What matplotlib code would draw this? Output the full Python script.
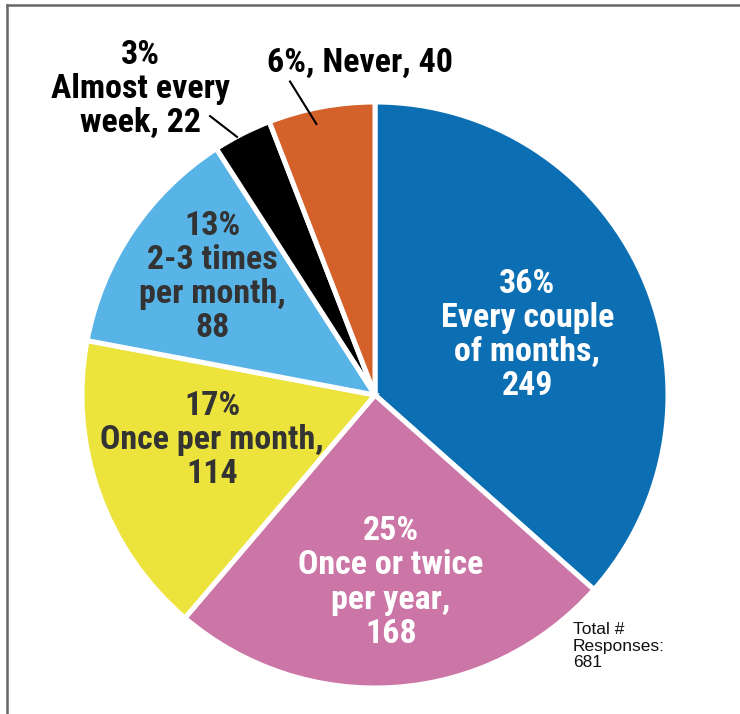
import matplotlib
matplotlib.use("Agg")
import matplotlib.pyplot as plt
from matplotlib.lines import Line2D

categories = ["Every couple\nof months,", "Once or twice\nper year,", "Once per month,",
              "2-3 times\nper month,", "Almost every\nweek,", "Never,"]
values = [249, 168, 114, 88, 22, 40]
percents = [36, 25, 17, 13, 3, 6]
colors = ["#0d6fb3", "#cb76a6", "#ece33c", "#58b3e6", "#000000", "#d4602a"]

fam = ["Roboto Condensed", "DejaVu Sans"]
fam2 = ["Liberation Sans", "DejaVu Sans"]

W, H = 740, 714
fig = plt.figure(figsize=(W / 100, H / 100), dpi=100)
cx, cy, r = 375, 395, 293
ax = fig.add_axes([(cx - r) / W, (H - cy - r) / H, 2 * r / W, 2 * r / H])
ax.set_aspect("equal")
ax.axis("off")

ax.pie(values, colors=colors, startangle=90, counterclock=False, radius=1,
       wedgeprops=dict(edgecolor="white", linewidth=3.6), center=(0, 0), frame=False)
ax.set_xlim(-1, 1)
ax.set_ylim(-1, 1)

total = sum(values)
FS = 24.5
LS = 1.09

lab_pos = [(0.52, 0.205), (0.055, -0.64), (-0.556, -0.154), (-0.556, 0.403)]
lab_col = ["white", "white", "#333333", "#333333"]
for i in range(4):
    ax.text(lab_pos[i][0], lab_pos[i][1], f"{percents[i]}%\n{categories[i]}\n{values[i]}",
            ha="center", va="center", fontsize=FS, fontweight="bold", color=lab_col[i],
            family=fam, linespacing=LS)

ax.text(-0.802, 1.045, f"{percents[4]}%\n{categories[4]} {values[4]}", ha="center", va="center",
        fontsize=FS, fontweight="bold", color="black", family=fam, linespacing=LS,
        clip_on=False)
ax.text(-0.05, 1.133, f"{percents[5]}%, {categories[5]} {values[5]}", ha="center", va="center",
        fontsize=FS, fontweight="bold", color="black", family=fam, clip_on=False)

ax.add_line(Line2D([-0.29, -0.20], [1.07, 0.925], color="black", lw=1.5, clip_on=False))
ax.add_line(Line2D([-0.563, -0.471], [0.952, 0.881], color="black", lw=1.5, clip_on=False))

ax.text(0.676, -0.775, f"Total #\nResponses:\n{total}", ha="left", va="top",
        fontsize=12.5, color="#111111", family=fam2, linespacing=1.12, clip_on=False)

# frame lines (top and left)
fig.add_artist(Line2D([7 / W, 1], [1 - 5 / H, 1 - 5 / H], color="#666666", lw=1.8,
                      transform=fig.transFigure))
fig.add_artist(Line2D([7 / W, 7 / W], [0, 1 - 5 / H], color="#666666", lw=1.8,
                      transform=fig.transFigure))

fig.savefig("out.png", dpi=100, facecolor="white")
